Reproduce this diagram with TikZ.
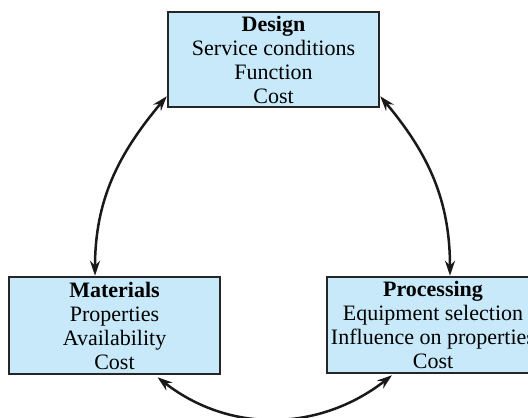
\documentclass[tikz,border=0pt]{standalone}
\usepackage{fontspec}
\setmainfont{Liberation Serif}
\usetikzlibrary{arrows.meta}
\definecolor{boxblue}{RGB}{199,233,249}
\begin{document}
\begin{tikzpicture}[x=1pt,y=1pt,
  box/.style={draw=black!85,line width=2.5pt,fill=boxblue,rectangle,inner sep=0pt,
    minimum width=211pt,align=center,font=\fontsize{22}{24}\selectfont},
  link/.style={line width=2.5pt,black!90,{Stealth[length=15pt,width=10pt,inset=5pt]}-{Stealth[length=15pt,width=10pt,inset=5pt]}}]
\useasboundingbox (0,0) rectangle (528,418);
\clip (0,0) rectangle (528,418);
\node[box,minimum height=95pt] (design) at (273.5,358.5) {\textbf{Design}\\Service conditions\\Function\\Cost};
\node[box,minimum height=97pt] (materials) at (114.5,92.5) {\textbf{Materials}\\Properties\\Availability\\Cost};
\node[box,minimum height=96pt,minimum width=212pt] (processing) at (433,93) {\textbf{Processing}\\Equipment selection\\Influence on properties\\Cost};
\coordinate (dl) at ([yshift=12pt]design.south west);
\coordinate (dr) at ([yshift=12pt]design.south east);
\coordinate (mt) at ([xshift=-19.5pt]materials.north);
\coordinate (pt) at ([xshift=17pt]processing.north);
\coordinate (mb) at ([xshift=43pt,yshift=-2pt]materials.south);
\coordinate (pb) at ([xshift=-41pt,yshift=-1pt]processing.south);
\draw[link] (mt) to[out=90,in=-130] (dl);
\draw[link] (pt) to[out=90,in=-50] (dr);
\draw[link] (mb) to[out=-38,in=-142] (pb);
\end{tikzpicture}
\end{document}
